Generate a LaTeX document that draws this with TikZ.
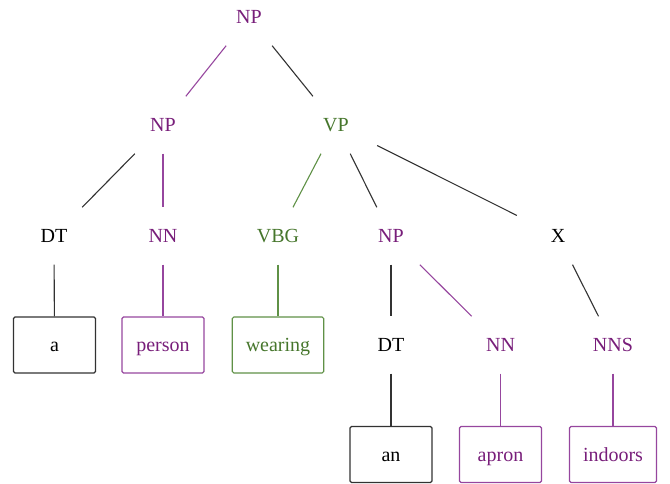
\documentclass[tikz,border=0pt]{standalone}
\usepackage{fontspec}
\setmainfont{Liberation Serif}
\definecolor{tpurple}{RGB}{120,30,122}
\definecolor{lpurple}{RGB}{150,70,158}
\definecolor{tgreen}{RGB}{70,118,44}
\definecolor{lgreen}{RGB}{95,145,70}
\definecolor{lblack}{RGB}{50,50,50}
\tikzset{
  lbl/.style={rectangle, inner sep=0pt, text height=16pt, text depth=2.2pt, minimum width=82pt, minimum height=57pt, font=\fontsize{20}{24}\selectfont},
  leaf/.style={rectangle, draw, line width=1.1pt, rounded corners=1.5pt, inner xsep=13.5pt, inner ysep=0pt, text height=16pt, text depth=2.6pt, minimum width=82pt, minimum height=56pt, font=\fontsize{20}{24}\selectfont},
  pu/.style={text=tpurple},
  gr/.style={text=tgreen},
  bk/.style={text=black},
  ep/.style={draw=lpurple, line width=1.1pt},
  eg/.style={draw=lgreen, line width=1.1pt},
  eb/.style={draw=lblack, line width=1.1pt},
}
\begin{document}
\begin{tikzpicture}[x=1pt,y=-1pt]
\useasboundingbox (0,0) rectangle (670,484);
% level 1
\node[lbl,pu] (np0) at (249,17) {NP};
% level 2
\node[lbl,pu] (np1) at (163,125) {NP};
\node[lbl,gr] (vp) at (336,125) {VP};
% level 3
\node[lbl,bk] (dt1) at (54,236) {DT};
\node[lbl,pu] (nn1) at (163,236) {NN};
\node[lbl,gr] (vbg) at (278,236) {VBG};
\node[lbl,pu] (np2) at (391,236) {NP};
\node[lbl,bk] (x) at (558,236) {X};
% level 3 leaves
\node[leaf,draw=lblack,text=black] (a) at (54.5,345) {a};
\node[leaf,draw=lpurple,text=tpurple] (person) at (163,345) {person};
\node[leaf,draw=lgreen,text=tgreen] (wearing) at (278,345) {wearing};
% level 4
\node[lbl,bk] (dt2) at (391,345) {DT};
\node[lbl,pu] (nn2) at (500.5,345) {NN};
\node[lbl,pu] (nns) at (613,345) {NNS};
% level 4 leaves
\node[leaf,draw=lblack,text=black] (an) at (391,454.5) {an};
\node[leaf,draw=lpurple,text=tpurple] (apron) at (500.5,454.5) {apron};
\node[leaf,draw=lpurple,text=tpurple] (indoors) at (613,454.5) {indoors};
% edges
\draw[ep] (np0) -- (np1);
\draw[eb] (np0) -- (vp);
\draw[eb] (np1) -- (dt1);
\draw[ep] (np1) -- (nn1);
\draw[eg] (vp) -- (vbg);
\draw[eb] (vp) -- (np2);
\draw[eb] (vp) -- (x);
\draw[eb] (dt1) -- (a);
\draw[ep] (nn1) -- (person);
\draw[eg] (vbg) -- (wearing);
\draw[eb] (np2) -- (dt2);
\draw[ep] (np2) -- (nn2);
\draw[eb] (x) -- (nns);
\draw[eb] (dt2) -- (an);
\draw[ep] (nn2) -- (apron);
\draw[ep] (nns) -- (indoors);
\end{tikzpicture}
\end{document}
